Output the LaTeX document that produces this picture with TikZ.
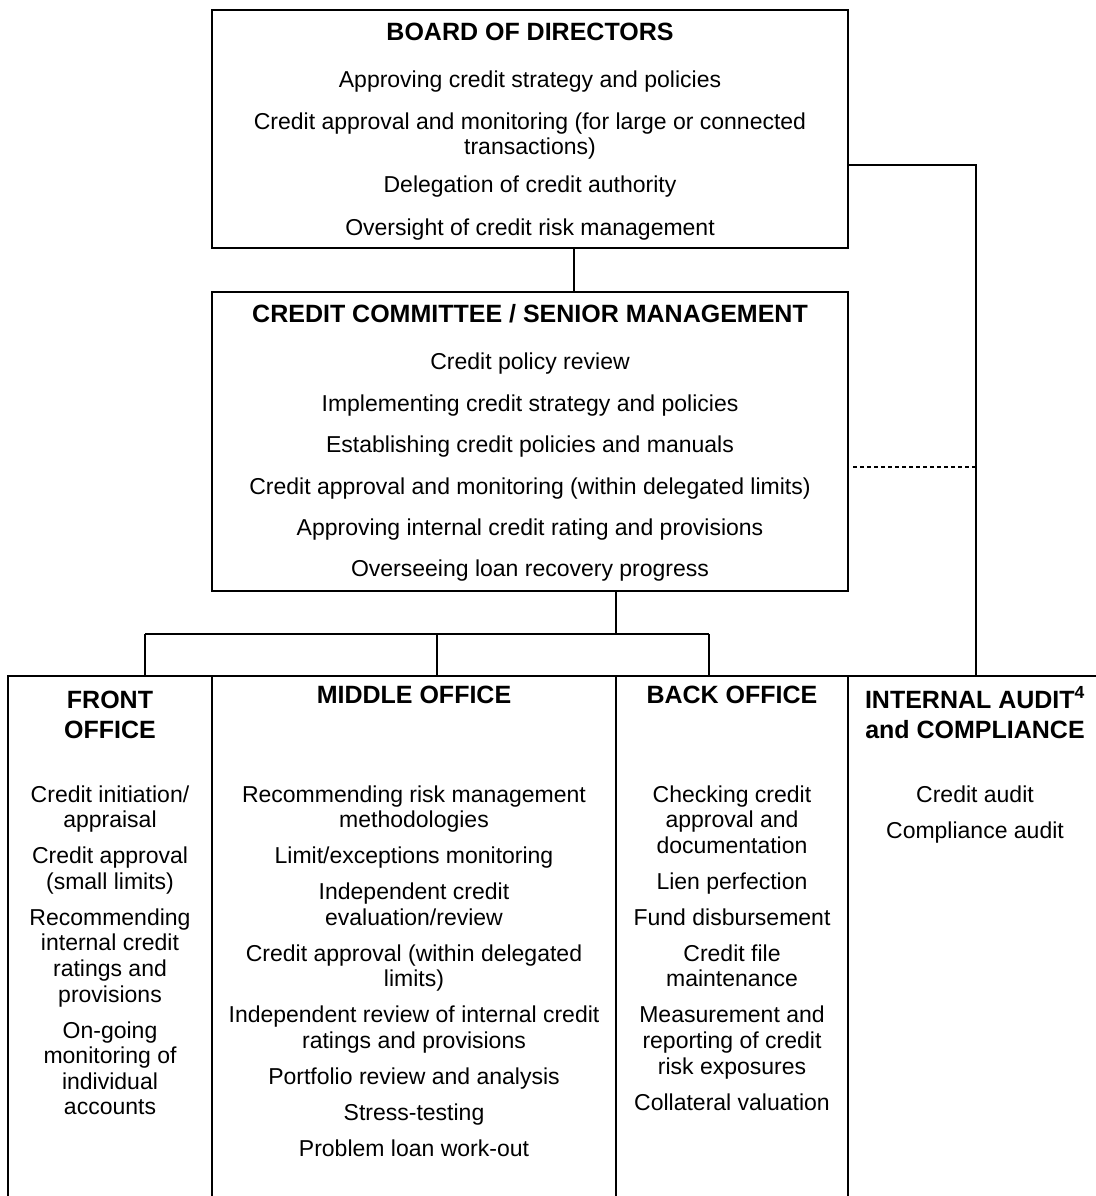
\documentclass[tikz,border=0pt]{standalone}
\usepackage{fontspec}
\setmainfont{Liberation Sans}
\begin{document}
\begin{tikzpicture}[x=1pt,y=-1pt,
  ln/.style={line width=1.2pt},
  box/.style={draw, line width=1.2pt, inner sep=0pt, outer sep=0pt},
  tx/.style={font=\fontsize{23pt}{25.6pt}\selectfont, align=center, inner sep=0pt, anchor=base},
  hd/.style={font=\bfseries\fontsize{25pt}{30pt}\selectfont, align=center, inner sep=0pt, anchor=base}]
\useasboundingbox[fill=white] (0,0) rectangle (1095,1196);

% boxes
\node[box, minimum width=636pt, minimum height=238pt] (board) at (530,129) {};
\node[box, minimum width=636pt, minimum height=299pt] (cc) at (530,441.5) {};
\node[box, minimum width=204pt, minimum height=534pt] (front) at (110,943) {};
\node[box, minimum width=404pt, minimum height=534pt] (middle) at (414,943) {};
\node[box, minimum width=232pt, minimum height=534pt] (back) at (732,943) {};
\node[box, minimum width=256pt, minimum height=534pt] (audit) at (976,943) {};

% board text (base anchor = baseline of last line)
\node[hd] (bT) at (530,41) {BOARD OF DIRECTORS};
\node[tx] (b1) at (530,88) {Approving credit strategy and policies};
\node[tx] (b2) at (530,154.6) {Credit approval and monitoring (for large or connected\\transactions)};
\node[tx] (b3) at (530,192) {Delegation of credit authority};
\node[tx] (b4) at (530,235) {Oversight of credit risk management};

% committee text
\node[hd] (cT) at (530,322) {CREDIT COMMITTEE / SENIOR MANAGEMENT};
\node[tx] (c1) at (530,369) {Credit policy review};
\node[tx] (c2) at (530,411) {Implementing credit strategy and policies};
\node[tx] (c3) at (530,452) {Establishing credit policies and manuals};
\node[tx] (c4) at (530,494) {Credit approval and monitoring (within delegated limits)};
\node[tx] (c5) at (530,535) {Approving internal credit rating and provisions};
\node[tx] (c6) at (530,576) {Overseeing loan recovery progress};

% column headers
\node[hd] (fT) at (110,738) {FRONT\\OFFICE};
\node[hd] (mT) at (414,703) {MIDDLE OFFICE};
\node[hd] (kT) at (732,703) {BACK OFFICE};
\node[hd] (aT) at (975,738) {INTERNAL AUDIT\textsuperscript{4}\\and COMPLIANCE};

% column bodies
\node[tx] (fB) at (110,1114.8) {Credit initiation/\\appraisal\\[10.4pt]
Credit approval\\(small limits)\\[10.4pt]
Recommending\\internal credit\\ratings and\\provisions\\[10.4pt]
On-going\\monitoring of\\individual\\accounts};
\node[tx] (mB) at (414,1156.4) {Recommending risk management\\methodologies\\[10.4pt]
Limit/exceptions monitoring\\[10.4pt]
Independent credit\\evaluation/review\\[10.4pt]
Credit approval (within delegated\\limits)\\[10.4pt]
Independent review of internal credit\\ratings and provisions\\[10.4pt]
Portfolio review and analysis\\[10.4pt]
Stress-testing\\[10.4pt]
Problem loan work-out};
\node[tx] (kB) at (732,1110) {Checking credit\\approval and\\documentation\\[10.4pt]
Lien perfection\\[10.4pt]
Fund disbursement\\[10.4pt]
Credit file\\maintenance\\[10.4pt]
Measurement and\\reporting of credit\\risk exposures\\[10.4pt]
Collateral valuation};
\node[tx] (aB) at (975,838) {Credit audit\\[10.4pt]Compliance audit};

% connectors
\coordinate (k1) at (574,0);
\draw[ln] (board.south -| k1) -- (cc.north -| k1);
\coordinate (r1) at (0,165);
\draw[ln] (board.east |- r1) -| (audit.north);
\coordinate (d1) at (853,467);
\draw[ln, dash pattern=on 4pt off 3pt] (d1) -- (d1 -| audit.north);
\coordinate (bus) at (616,634);
\coordinate (fb) at (145,634);
\coordinate (mb) at (437,634);
\coordinate (kb) at (709,634);
\draw[ln] (cc.south -| bus) -- (bus);
\draw[ln] (fb) -- (kb);
\draw[ln] (fb) -- (fb |- front.north);
\draw[ln] (mb) -- (mb |- middle.north);
\draw[ln] (kb) -- (kb |- back.north);
\end{tikzpicture}
\end{document}
